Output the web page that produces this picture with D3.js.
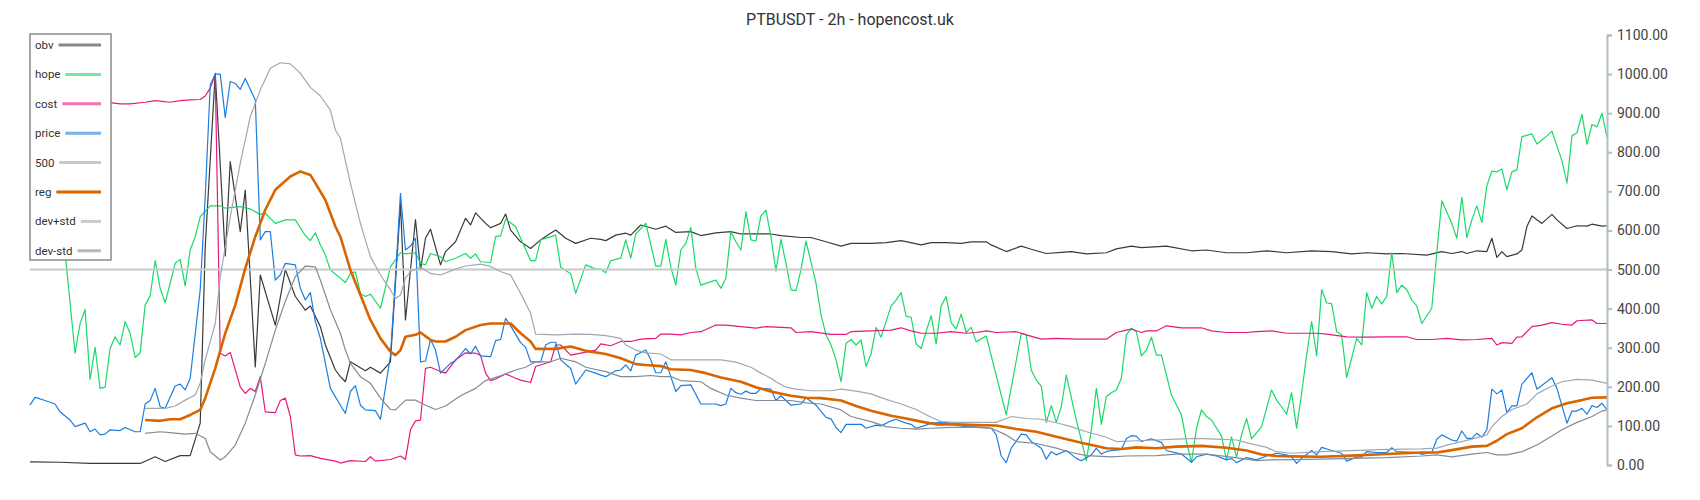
<!DOCTYPE html>
<html>
<head>
<meta charset="utf-8">
<script src="https://cdn.jsdelivr.net/npm/d3@7"></script>
<style>
    body { margin: 0; background: #fff; font-family: Roboto, "Noto Sans", sans-serif; }
    #chart { width: 1700px; height: 500px; }
    .axis path, .axis line { stroke: #b0bec5; stroke-width: 2; }
    .axis text { font-size: 14px; fill: #444; font-family: Roboto, sans-serif; }
    .legendLabel { font-size: 11.5px; fill: #333; }
</style>
</head>
<body>
<div id="chart"></div>
<script>
// candle index (2h bars) -> value
const obv = [[0,8],[6,7],[12,4],[22,4],[25,21],[27,9],[30,24],[32,24],[34,107],[35,559],[37,1002],[39,535],[40,776],[42,597],[43,703],[45,251],[46,486],[49,358],[51,500],[53,431],[55,396],[56,407],[58,354],[59,307],[61,243],[62,226],[63,213],[64,264],[67,241],[68,250],[70,235],[72,264],[74,669],[75,371],[77,628],[78,499],[79,580],[80,603],[82,512],[83,546],[85,571],[87,631],[88,614],[89,645],[91,618],[92,607],[94,618],[95,642],[96,601],[98,571],[100,554],[102,576],[105,601],[107,580],[109,567],[112,580],[114,577],[115,574],[117,588],[119,593],[120,588],[122,614],[125,603],[127,611],[129,595],[132,597],[134,587],[137,594],[140,597],[142,591],[145,591],[148,591],[150,587],[154,582],[156,582],[159,571],[162,560],[164,567],[168,567],[171,569],[174,574],[178,563],[180,569],[183,569],[186,567],[188,571],[191,571],[192,563],[195,546],[198,560],[200,552],[203,541],[206,544],[208,546],[211,540],[215,543],[217,553],[220,560],[222,556],[227,560],[232,548],[235,550],[239,543],[243,543],[247,548],[251,543],[256,548],[260,546],[264,540],[267,543],[271,540],[274,541],[279,537],[282,546],[284,541],[286,546],[287,541],[289,548],[291,546],[292,580],[293,531],[294,546],[295,533],[297,540],[298,550],[299,610],[300,637],[302,618],[304,641],[305,627],[307,605],[309,612],[311,611],[312,616],[314,611],[315,612]];

const hope = [[0,814],[3,775],[5,700],[7,545],[9,286],[10,362],[11,398],[12,219],[13,301],[14,196],[15,199],[16,298],[17,328],[18,307],[19,367],[20,337],[21,275],[22,287],[23,409],[24,433],[25,523],[26,452],[27,415],[29,516],[30,526],[31,458],[32,550],[33,584],[34,635],[36,663],[38,663],[39,657],[42,661],[44,655],[46,641],[47,644],[49,618],[51,627],[53,627],[55,587],[56,574],[57,594],[58,563],[59,537],[60,499],[62,478],[63,467],[64,490],[65,494],[66,439],[67,431],[68,437],[70,401],[72,507],[74,543],[75,540],[77,543],[78,516],[79,512],[80,541],[82,533],[83,520],[85,529],[87,541],[88,529],[89,540],[90,520],[92,518],[93,584],[94,586],[95,629],[97,610],[98,580],[100,523],[101,523],[102,576],[105,588],[106,506],[108,489],[109,439],[111,512],[113,501],[114,501],[115,492],[116,523],[118,529],[119,576],[120,529],[121,591],[123,618],[125,509],[126,509],[127,577],[128,506],[129,460],[130,550],[131,567],[132,608],[133,503],[134,460],[136,469],[137,473],[138,452],[139,478],[140,597],[141,571],[142,550],[143,648],[144,576],[145,573],[146,637],[147,652],[148,584],[149,496],[150,577],[151,516],[152,448],[153,446],[154,499],[155,573],[157,465],[158,384],[159,333],[160,307],[161,269],[162,213],[163,311],[164,321],[165,307],[166,320],[167,252],[168,284],[169,352],[170,327],[172,407],[173,422],[174,441],[175,381],[176,378],[177,310],[178,298],[179,341],[180,382],[181,310],[182,407],[183,431],[184,364],[185,348],[186,386],[187,339],[188,352],[189,315],[191,330],[195,128],[198,337],[199,333],[200,243],[201,217],[202,202],[203,109],[204,152],[205,109],[206,149],[207,230],[209,115],[210,64],[211,11],[212,90],[213,196],[214,104],[215,175],[216,185],[217,192],[218,222],[219,333],[220,350],[221,341],[222,279],[223,294],[224,327],[225,281],[226,281],[228,179],[230,128],[231,60],[232,7],[233,94],[234,141],[235,124],[236,115],[238,74],[239,13],[240,72],[241,20],[242,77],[243,119],[244,67],[246,98],[248,192],[249,166],[250,149],[251,130],[252,185],[253,94],[254,183],[255,281],[256,367],[257,279],[258,449],[259,415],[260,412],[261,341],[262,333],[263,224],[265,324],[266,307],[267,441],[268,401],[269,431],[270,412],[271,431],[272,543],[273,441],[274,460],[275,449],[276,422],[277,407],[278,362],[280,401],[281,543],[282,676],[284,618],[285,580],[286,685],[287,582],[288,627],[289,663],[290,620],[291,714],[292,752],[293,750],[294,757],[295,704],[296,750],[297,755],[298,840],[300,847],[301,821],[303,842],[304,854],[306,778],[307,721],[308,842],[309,850],[310,897],[311,821],[312,871],[313,865],[314,900],[315,838]];

const cost = [[0,928],[16,927],[18,924],[20,924],[23,928],[25,932],[28,928],[30,932],[32,934],[34,935],[35,944],[36,964],[37,999],[38,286],[39,279],[40,288],[42,200],[43,183],[44,196],[45,188],[46,226],[47,136],[49,134],[50,165],[51,171],[52,124],[53,26],[54,23],[56,24],[58,17],[61,10],[62,5],[64,11],[67,9],[68,21],[69,10],[72,14],[74,23],[75,14],[76,90],[77,113],[78,115],[79,247],[80,250],[82,239],[83,235],[85,269],[87,287],[89,286],[90,281],[91,235],[92,216],[93,220],[95,233],[97,222],[98,217],[100,211],[101,252],[104,264],[105,307],[106,307],[108,281],[110,286],[113,294],[114,310],[116,305],[118,316],[120,316],[122,322],[125,324],[126,335],[128,335],[130,333],[132,339],[134,341],[137,358],[139,358],[142,354],[145,350],[147,354],[152,351],[153,339],[156,341],[160,334],[163,334],[164,341],[168,343],[172,345],[174,351],[176,343],[178,337],[181,337],[184,341],[187,337],[189,339],[191,343],[193,339],[197,341],[199,333],[202,322],[205,324],[209,322],[215,322],[217,339],[219,345],[220,348],[222,339],[223,343],[225,343],[227,356],[230,351],[234,351],[236,343],[239,339],[243,339],[245,341],[248,343],[251,337],[257,337],[259,335],[263,328],[267,327],[271,328],[275,328],[277,321],[280,321],[283,324],[286,320],[289,321],[292,324],[293,307],[294,313],[296,311],[297,327],[298,328],[300,354],[302,358],[304,364],[306,360],[308,358],[309,369],[312,371],[313,362],[315,362]];

const price = [[0,153],[1,173],[3,165],[5,156],[6,136],[8,115],[9,98],[11,107],[12,85],[13,92],[14,77],[15,79],[16,90],[18,88],[19,96],[21,85],[22,85],[23,156],[24,165],[25,196],[26,149],[27,145],[29,202],[30,207],[31,192],[32,222],[34,448],[35,686],[36,972],[37,1000],[38,1000],[39,889],[40,981],[41,976],[42,961],[43,989],[45,934],[46,576],[47,597],[48,597],[49,473],[50,486],[51,516],[53,512],[54,452],[55,422],[56,441],[57,367],[58,324],[60,196],[62,153],[63,132],[64,188],[65,203],[66,153],[67,141],[69,139],[70,117],[72,280],[73,480],[74,695],[75,550],[76,560],[77,580],[78,264],[79,266],[80,321],[81,294],[82,235],[84,260],[85,267],[87,298],[88,284],[89,304],[90,279],[92,277],[93,318],[94,321],[95,375],[96,356],[98,313],[99,301],[100,264],[102,264],[103,307],[104,314],[105,314],[106,269],[108,247],[109,207],[111,243],[113,235],[114,230],[115,226],[117,241],[118,243],[119,256],[120,241],[121,281],[123,294],[124,269],[125,236],[126,236],[127,264],[128,226],[129,188],[130,203],[132,205],[134,156],[137,156],[138,152],[139,156],[140,196],[141,185],[142,181],[143,189],[144,183],[145,183],[146,196],[148,194],[149,165],[150,177],[152,153],[154,156],[155,172],[157,153],[159,122],[160,118],[161,96],[162,83],[163,104],[165,104],[166,104],[167,94],[169,102],[170,100],[172,113],[173,117],[175,107],[176,104],[177,94],[179,102],[180,107],[182,109],[183,109],[185,102],[187,98],[190,96],[192,94],[193,77],[194,23],[195,6],[196,43],[198,79],[199,77],[200,60],[202,43],[203,15],[204,34],[205,26],[207,37],[209,17],[210,11],[212,26],[213,43],[214,28],[215,34],[216,37],[218,40],[219,68],[220,75],[221,74],[222,60],[224,67],[226,58],[227,37],[230,28],[232,7],[233,21],[235,28],[237,23],[239,13],[240,17],[241,6],[243,19],[245,13],[247,23],[249,30],[251,26],[252,21],[253,4],[254,17],[256,37],[257,26],[258,45],[260,37],[262,30],[263,10],[265,20],[266,20],[267,34],[269,32],[271,32],[272,44],[273,34],[277,32],[278,27],[280,32],[281,66],[282,77],[284,64],[285,61],[286,87],[287,68],[288,68],[289,81],[290,71],[291,90],[292,194],[293,182],[294,192],[295,134],[296,151],[297,151],[298,207],[300,236],[301,194],[304,223],[305,196],[307,107],[308,138],[309,138],[310,145],[311,130],[312,152],[313,147],[314,158],[315,141]];

const level500 = [[0,500],[315,500]];

const reg = [[23,115],[26,113],[28,117],[30,117],[32,128],[34,141],[35,171],[37,247],[39,337],[41,409],[43,503],[45,584],[47,653],[49,704],[52,738],[54,751],[56,742],[57,721],[59,678],[61,610],[62,584],[64,499],[66,435],[68,371],[70,324],[72,290],[73,281],[74,294],[75,328],[77,333],[78,339],[80,320],[81,316],[83,316],[85,328],[87,345],[90,358],[92,362],[94,362],[96,362],[98,337],[100,316],[101,297],[105,297],[108,303],[111,292],[115,284],[118,273],[121,258],[123,256],[126,253],[128,245],[132,243],[135,235],[138,224],[142,213],[145,199],[148,188],[152,177],[155,172],[158,171],[162,165],[165,151],[168,139],[172,126],[175,119],[178,111],[181,104],[185,104],[189,102],[193,101],[197,92],[201,85],[205,72],[210,57],[215,43],[218,41],[221,45],[225,43],[229,47],[234,49],[239,44],[243,37],[246,27],[249,23],[252,22],[258,21],[264,24],[271,28],[278,32],[281,32],[284,38],[288,47],[291,49],[293,62],[295,79],[298,94],[301,122],[304,145],[307,158],[310,166],[312,172],[315,173]];

const devPlus = [[23,145],[27,145],[29,151],[31,166],[33,179],[34,209],[35,269],[37,362],[38,481],[40,635],[42,772],[44,891],[46,959],[48,1015],[50,1029],[52,1026],[54,1002],[56,966],[58,944],[60,908],[61,857],[62,836],[64,721],[66,618],[68,533],[70,486],[72,448],[73,426],[74,435],[75,478],[76,495],[78,506],[80,490],[82,486],[85,501],[87,509],[90,514],[92,508],[94,495],[96,486],[98,439],[100,388],[101,335],[105,333],[109,335],[112,334],[115,331],[118,324],[119,307],[121,294],[123,287],[126,284],[128,269],[132,269],[135,269],[138,269],[141,263],[144,250],[146,235],[148,222],[149,213],[151,199],[153,194],[156,190],[160,190],[162,194],[165,189],[168,182],[171,168],[174,156],[177,142],[180,122],[182,111],[185,109],[189,109],[193,109],[196,124],[199,119],[202,117],[205,108],[208,98],[211,85],[215,71],[217,60],[221,62],[225,64],[229,66],[233,68],[237,66],[241,64],[244,54],[247,45],[249,34],[252,30],[258,34],[264,37],[271,40],[278,41],[281,43],[283,51],[286,60],[288,66],[291,77],[292,98],[294,124],[296,142],[299,156],[301,182],[304,202],[306,213],[309,219],[312,217],[315,209]];

const devMinus = [[23,81],[26,85],[28,83],[31,79],[33,81],[35,68],[36,34],[38,13],[39,21],[41,51],[43,107],[45,179],[47,260],[49,345],[51,419],[53,482],[55,509],[57,507],[58,473],[60,397],[62,337],[63,294],[64,260],[66,226],[68,209],[70,171],[72,142],[73,141],[75,166],[77,166],[79,153],[81,142],[83,151],[86,177],[89,196],[91,216],[94,228],[97,243],[99,250],[101,264],[104,264],[106,273],[109,264],[111,250],[115,239],[118,226],[121,226],[124,229],[126,226],[128,226],[130,216],[134,213],[136,196],[139,179],[142,171],[145,165],[148,165],[152,165],[155,159],[158,156],[162,141],[164,124],[168,111],[171,98],[174,94],[177,92],[180,94],[184,96],[188,97],[192,94],[195,77],[197,60],[201,55],[205,43],[208,32],[211,24],[216,21],[219,23],[225,24],[229,28],[235,28],[240,20],[245,11],[248,13],[252,14],[258,15],[264,17],[271,19],[278,23],[281,26],[284,21],[288,28],[291,32],[293,26],[295,26],[298,34],[301,51],[304,74],[306,90],[309,109],[312,124],[314,138],[315,141]];

const names = ["obv", "hope", "cost", "price", "500", "reg", "dev+std", "dev-std"];
const colors = ["#3a3a3a", "#19d968", "#e6197a", "#1c7fe0", "#c8c8c8", "#d96400", "#9ea9b3", "#7f8c97"];
const yTicks = [0, 100, 200, 300, 400, 500, 600, 700, 800, 900, 1000, 1100];
const titleText = "PTBUSDT - 2h - hopencost.uk";

const width = 1700;
const height = 500;
const margin = { top: 35, left: 30, right: 93, bottom: 35 };

const svg = d3.select("#chart")
    .append("svg")
    .attr("width", width)
    .attr("height", height);

// scales - x is the candle index, y is the price-like value
const xScale = d3.scaleLinear()
    .domain([0, 315])
    .range([margin.left, width - margin.right]);

const yScale = d3.scaleLinear()
    .domain([0, 1100])
    .range([height - margin.bottom, margin.top]);

const line = d3.line()
    .x(d => xScale(d[0]))
    .y(d => yScale(d[1]));

const allSeries = [obv, hope, cost, price, level500, reg, devPlus, devMinus];

// draw the lines in legend order
svg.selectAll(".series")
    .data(allSeries)
    .enter()
    .append("path")
    .attr("class", "series")
    .attr("fill", "none")
    .attr("stroke", (d, i) => colors[i])
    .attr("stroke-width", (d, i) => names[i] === "reg" ? 2.6 : (names[i] === "500" ? 2 : 1.2))
    .attr("stroke-linejoin", "round")
    .attr("d", line);

// right axis
svg.append("g")
    .attr("class", "axis")
    .attr("transform", `translate(${width - margin.right},0)`)
    .call(d3.axisRight(yScale)
        .tickValues(yTicks)
        .tickSize(5)
        .tickPadding(5)
        .tickFormat(d3.format(".2f")));

// title
svg.append("text")
    .attr("x", width / 2)
    .attr("y", 25)
    .attr("text-anchor", "middle")
    .style("font-size", "16px")
    .style("fill", "#333")
    .text(titleText);

// legend box with a white background over the lines
const legend = svg.append("g");

legend.append("rect")
    .attr("x", 30)
    .attr("y", 34)
    .attr("width", 81)
    .attr("height", 226)
    .attr("fill", "#fff")
    .attr("stroke", "#8a8a8a")
    .attr("stroke-width", 1.5);

names.forEach((name, i) => {
    const cy = 45 + i * 29.4;
    const label = legend.append("text")
        .attr("class", "legendLabel")
        .attr("x", 35)
        .attr("y", cy + 4)
        .text(name);
    const tw = label.node().getComputedTextLength();
    legend.append("line")
        .attr("x1", 35 + tw + 5)
        .attr("x2", 101)
        .attr("y1", cy)
        .attr("y2", cy)
        .attr("stroke", colors[i])
        .attr("stroke-width", 3)
        .attr("opacity", (name === "reg" || name === "500") ? 1 : 0.6);
});
</script>
</body>
</html>
